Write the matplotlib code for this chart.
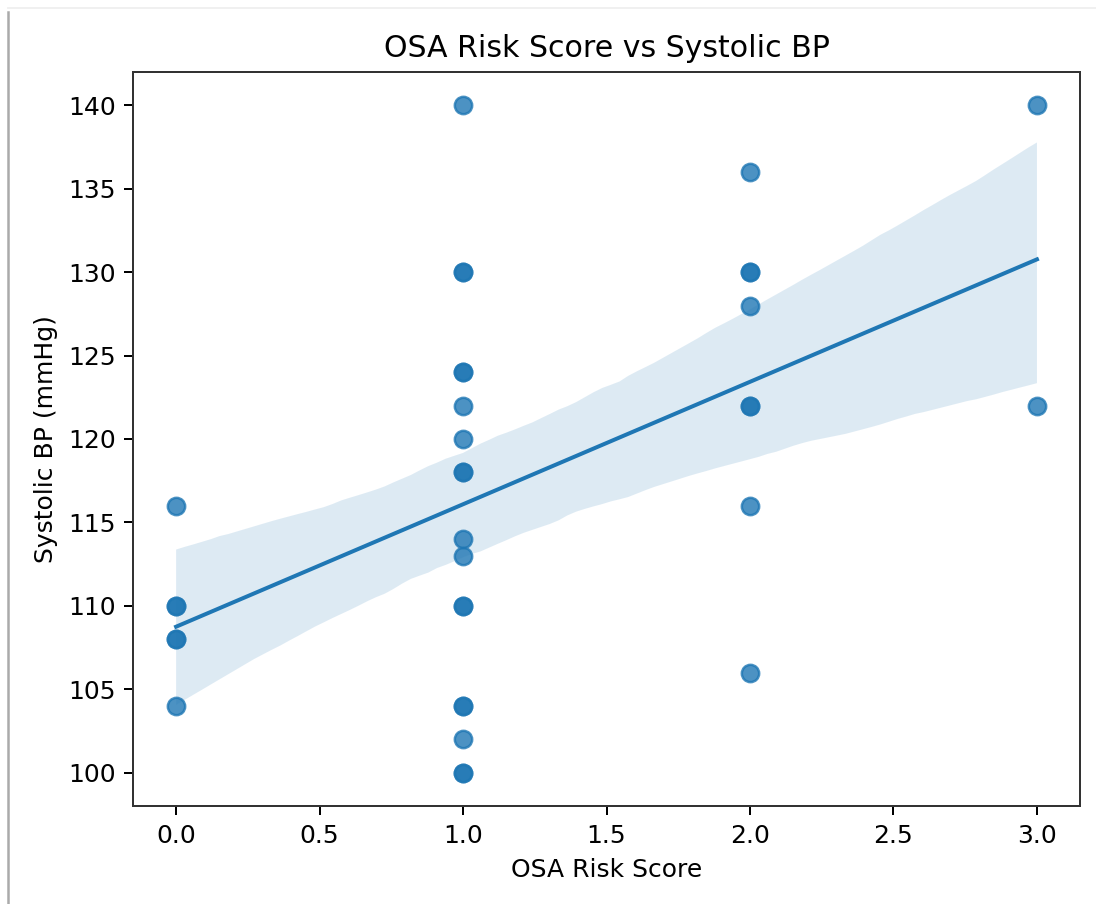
import matplotlib
matplotlib.use("Agg")
import matplotlib.pyplot as plt
from matplotlib.lines import Line2D
import numpy as np
import pandas as pd
import seaborn as sns

# OSA risk score per patient and systolic BP (mmHg)
score_0 = [116, 110, 110, 108, 108, 104]
score_1 = [140, 130, 130, 124, 124, 122, 120, 118, 118, 114, 113,
           110, 110, 104, 104, 102, 100, 100]
score_2 = [136, 130, 130, 128, 122, 122, 116, 106]
score_3 = [140, 122]

groups = [score_0, score_1, score_2, score_3]
risk = []
sbp = []
for score, vals in enumerate(groups):
    risk += [score] * len(vals)
    sbp += vals

df = pd.DataFrame({"OSA_Risk": risk, "Systolic_BP": sbp})

DPI = 180
fig = plt.figure(figsize=(1096 / DPI, 904 / DPI), dpi=DPI)
ax = fig.add_axes([0.1214, 0.1084, 0.9854 - 0.1214, 0.9204 - 0.1084])

sns.regplot(data=df, x="OSA_Risk", y="Systolic_BP", ax=ax, seed=3,
            scatter_kws={"s": 48}, line_kws={"lw": 1.6})

ax.set(title="OSA Risk Score vs Systolic BP",
       xlabel="OSA Risk Score",
       ylabel="Systolic BP (mmHg)",
       yticks=np.arange(100, 141, 5))

for sp in ax.spines.values():
    sp.set_color("#333333")

# screenshot frame edges
fig.add_artist(Line2D([8 / 1096, 8 / 1096], [0, 1 - 12 / 904],
                      color="#aaaaaa", lw=1.0))
fig.add_artist(Line2D([8 / 1096, 1], [1 - 8 / 904, 1 - 8 / 904],
                      color="#eeeeee", lw=0.7))

fig.savefig("out.png", dpi=DPI)
